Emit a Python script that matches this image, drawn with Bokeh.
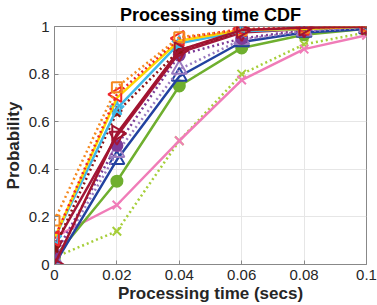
import math
from bokeh.plotting import figure
from bokeh.models import FixedTicker, Range1d
from bokeh.embed import file_html
from bokeh.resources import INLINE

x_vals = [0, 0.02, 0.04, 0.06, 0.08, 0.1]
x_ticks = [0, 0.02, 0.04, 0.06, 0.08, 0.1]
x_labels = ["0", "0.02", "0.04", "0.06", "0.08", "0.1"]
y_ticks = [0, 0.2, 0.4, 0.6, 0.8, 1.0]
y_labels = ["0", "0.2", "0.4", "0.6", "0.8", "1"]

lime_x = [0.03, 0.14, 0.52, 0.80, 0.925, 0.975]
pink_x = [0.115, 0.25, 0.52, 0.775, 0.905, 0.963]
green_circle = [0.03, 0.35, 0.75, 0.91, 0.965, 0.99]
blue_tri = [0.0, 0.44, 0.79, 0.935, 0.975, 0.99]
lavender_tri = [0.02, 0.47, 0.82, 0.945, 0.98, 0.995]
purple_circle = [0.04, 0.50, 0.88, 0.95, 0.985, 1.0]
crimson_tri_down = [0.08, 0.54, 0.89, 0.975, 0.99, 1.0]
maroon_star = [0.07, 0.64, 0.90, 0.98, 0.99, 1.0]
cyan_star = [0.11, 0.655, 0.93, 0.98, 0.99, 1.0]
yellow_line = [0.11, 0.70, 0.94, 0.985, 0.99, 1.0]
red_tri_left = [0.11, 0.715, 0.95, 0.99, 0.995, 1.0]
orange_sq = [0.185, 0.745, 0.955, 0.985, 0.995, 1.0]
magenta_tri_right = [0.0, 0.55, 0.90, 0.985, 0.995, 1.0]

FONT = "Liberation Sans"

p = figure(width=377, height=305, output_backend="svg", toolbar_location=None,
           x_range=Range1d(0, 0.1), y_range=Range1d(0, 1),
           min_border_left=50, min_border_right=11, min_border_top=23, min_border_bottom=40)
p.styles = {"position": "absolute", "top": "0px", "left": "0px"}

p.title.text = "Processing time CDF"
p.title.text_font = FONT
p.title.text_font_size = "18px"
p.title.text_font_style = "bold"
p.title.text_color = "#000000"
p.title.align = "center"
p.title.offset = 0
p.title.standoff = 4

for ax in (p.xaxis[0], p.yaxis[0]):
    ax.axis_line_color = "#888888"
    ax.major_tick_line_color = "#888888"
    ax.major_tick_in = 4
    ax.major_tick_out = 0
    ax.minor_tick_line_color = None
    ax.major_label_text_font = FONT
    ax.major_label_text_font_size = "15px"
    ax.major_label_text_color = "#262626"
    ax.axis_label_text_font = FONT
    ax.axis_label_text_font_size = "17px"
    ax.axis_label_text_font_style = "bold"
    ax.axis_label_text_color = "#262626"

p.xaxis.ticker = FixedTicker(ticks=x_ticks)
p.xaxis.major_label_overrides = {t: l for t, l in zip(x_ticks, x_labels)}
p.xaxis.axis_label = "Processing time (secs)"
p.xaxis.major_label_standoff = 5
p.xaxis.axis_label_standoff = 1
p.yaxis.ticker = FixedTicker(ticks=y_ticks)
p.yaxis.major_label_overrides = {t: l for t, l in zip(y_ticks, y_labels)}
p.yaxis.axis_label = "Probability"
p.yaxis.major_label_standoff = 5
p.yaxis.axis_label_standoff = 3

p.xgrid.grid_line_color = "#E6E6E6"
p.ygrid.grid_line_color = "#E6E6E6"
p.outline_line_color = "#888888"

series = [
    (lime_x, "#A6CE39", "2 3", "x", None, 12, 0),
    (pink_x, "#F07CB8", None, "x", None, 12, 0),
    (green_circle, "#6FAF2F", None, "circle", "fill", 11, 0),
    (blue_tri, "#2342A0", None, "triangle", None, 15, 0),
    (lavender_tri, "#9B7BC0", "2 3", "triangle", None, 15, 0),
    (purple_circle, "#7D3C98", "2 3", "circle", "fill", 11, 0),
    (crimson_tri_down, "#A3173A", None, "inverted_triangle", None, 15, 0),
    (maroon_star, "#8C1414", "2 3", "star", "fill", 11, 0),
    (cyan_star, "#3FB8E8", None, "star", None, 15, 0),
    (yellow_line, "#FFD400", None, None, None, 0, 0),
    (red_tri_left, "#F0262B", "2 3", "triangle", None, 15, math.pi / 2),
    (orange_sq, "#F5891F", "2 3", "square", None, 10, 0),
    (magenta_tri_right, "#A2142F", None, "triangle", None, 16, -math.pi / 2),
]

for ys, color, dash, marker, fill, size, ang in series:
    if dash:
        p.line(x_vals, ys, line_color=color, line_width=2.5, line_dash=dash)
    else:
        p.line(x_vals, ys, line_color=color, line_width=2.5)
    if marker:
        p.scatter(x_vals, ys, marker=marker, size=size, angle=ang,
                  line_color=color, line_width=2,
                  fill_color=color if fill else None)

open("out.html", "w").write(file_html(p, INLINE))
